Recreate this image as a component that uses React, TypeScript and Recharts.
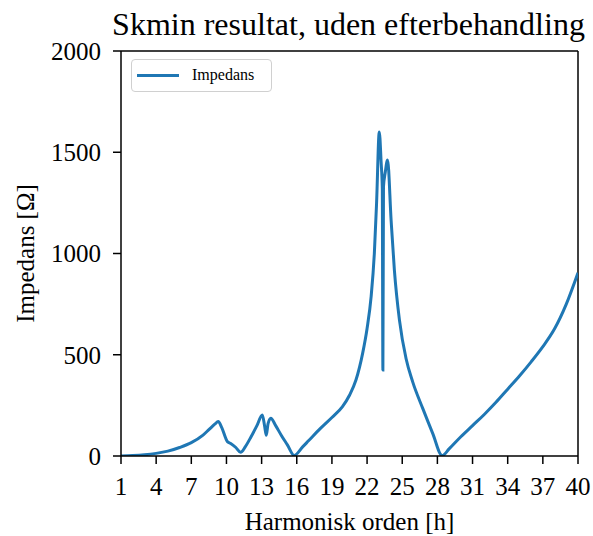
import * as React from "react";
import {
  Label,
  Legend,
  Line,
  LineChart,
  ReferenceLine,
  XAxis,
  YAxis,
} from "recharts";

// harmonic order (x) and impedance in ohm (y)
const harmonics = [
  1, 2, 3, 4, 5, 6, 7, 8, 8.5, 9, 9.3, 9.6, 10.07, 10.36, 10.8, 11.21, 11.6,
  12.1, 12.6, 13.06, 13.25, 13.4, 13.55, 13.78, 14.2, 14.7, 15.2, 15.77, 16.5,
  17, 18, 19, 19.9, 20.5, 21.05, 21.62, 22.0, 22.35, 22.62, 22.81, 23.04, 23.2,
  23.3, 23.35, 23.4, 23.55, 23.75, 24.05, 24.33, 24.76, 25.33, 25.9, 26.75,
  27.6, 28.41, 29, 30, 31, 32, 33, 34, 35, 36, 37, 38, 39, 40,
];
const impedance = [
  0, 2, 6, 13, 24, 42, 66, 103, 130, 157, 170, 140, 72, 62, 42, 18, 45, 95,
  150, 203, 150, 102, 160, 187, 150, 100, 55, 3, 45, 75, 135, 190, 244, 300,
  375, 507, 630, 790, 1001, 1248, 1600, 1450, 1320, 425, 1330, 1400, 1462,
  1165, 918, 672, 480, 365, 235, 112, 2, 35, 95, 150, 205, 265, 330, 395, 465,
  540, 628, 750, 905,
];
const xTicks = [1, 4, 7, 10, 13, 16, 19, 22, 25, 28, 31, 34, 37, 40];
const yTicks = [0, 500, 1000, 1500, 2000];

const data = harmonics.map((h, i) => ({ h, z: impedance[i] }));

const FONT = "'Liberation Serif', 'Times New Roman', serif";
const BLUE = "#1f77b4";
const tickStyle = { fill: "#000", fontSize: 25, fontFamily: FONT };

function LegendBox() {
  return (
    <div
      style={{
        width: 139,
        height: 31,
        border: "1px solid #d0d0d0",
        borderRadius: 4,
        background: "rgba(255,255,255,0.8)",
        position: "relative",
        fontFamily: FONT,
        fontSize: 16,
        color: "#000",
      }}
    >
      <div
        style={{
          position: "absolute",
          left: 5,
          top: 14,
          width: 42,
          height: 3,
          background: BLUE,
        }}
      />
      <span style={{ position: "absolute", left: 60, top: 5, lineHeight: "20px" }}>
        Impedans
      </span>
    </div>
  );
}

export default function App() {
  return (
    <div style={{ position: "absolute", left: 0, top: 0, width: 593, height: 536, background: "#fff" }}>
      <div
        style={{
          position: "absolute",
          left: 0,
          top: 8,
          width: 697,
          textAlign: "center",
          fontFamily: FONT,
          fontSize: 32,
          lineHeight: "32px",
          color: "#000",
          whiteSpace: "nowrap",
        }}
      >
        Skmin resultat, uden efterbehandling
      </div>
      <LineChart
        width={593}
        height={536}
        data={data}
        margin={{ top: 51, right: 15, left: 0, bottom: 0 }}
      >
        <XAxis
          dataKey="h"
          type="number"
          domain={[1, 40]}
          ticks={xTicks}
          interval={0}
          height={80}
          tick={tickStyle}
          tickSize={8}
          tickMargin={13}
          stroke="#000"
          strokeWidth={1.5}
          allowDataOverflow
        >
          <Label
            value="Harmonisk orden [h]"
            position="insideBottom"
            offset={6}
            style={{ fill: "#000", fontSize: 25, fontFamily: FONT }}
          />
        </XAxis>
        <YAxis
          type="number"
          domain={[0, 2000]}
          ticks={yTicks}
          interval={0}
          width={121}
          tick={tickStyle}
          tickSize={8}
          tickMargin={12}
          stroke="#000"
          strokeWidth={1.5}
          allowDataOverflow
        >
          <Label
            value="Impedans [Ω]"
            angle={-90}
            position="insideLeft"
            offset={25}
            style={{ fill: "#000", fontSize: 25, fontFamily: FONT, textAnchor: "middle" }}
          />
        </YAxis>
        <ReferenceLine y={2000} stroke="#000" strokeWidth={1.5} />
        <ReferenceLine x={40} stroke="#000" strokeWidth={1.5} />
        <Legend
          layout="horizontal"
          verticalAlign="middle"
          align="center"
          wrapperStyle={{ left: 131, top: 59, width: "auto" }}
          content={() => <LegendBox />}
        />
        <Line
          type="monotone"
          dataKey="z"
          name="Impedans"
          stroke={BLUE}
          strokeWidth={3}
          dot={false}
          isAnimationActive={false}
        />
      </LineChart>
    </div>
  );
}
